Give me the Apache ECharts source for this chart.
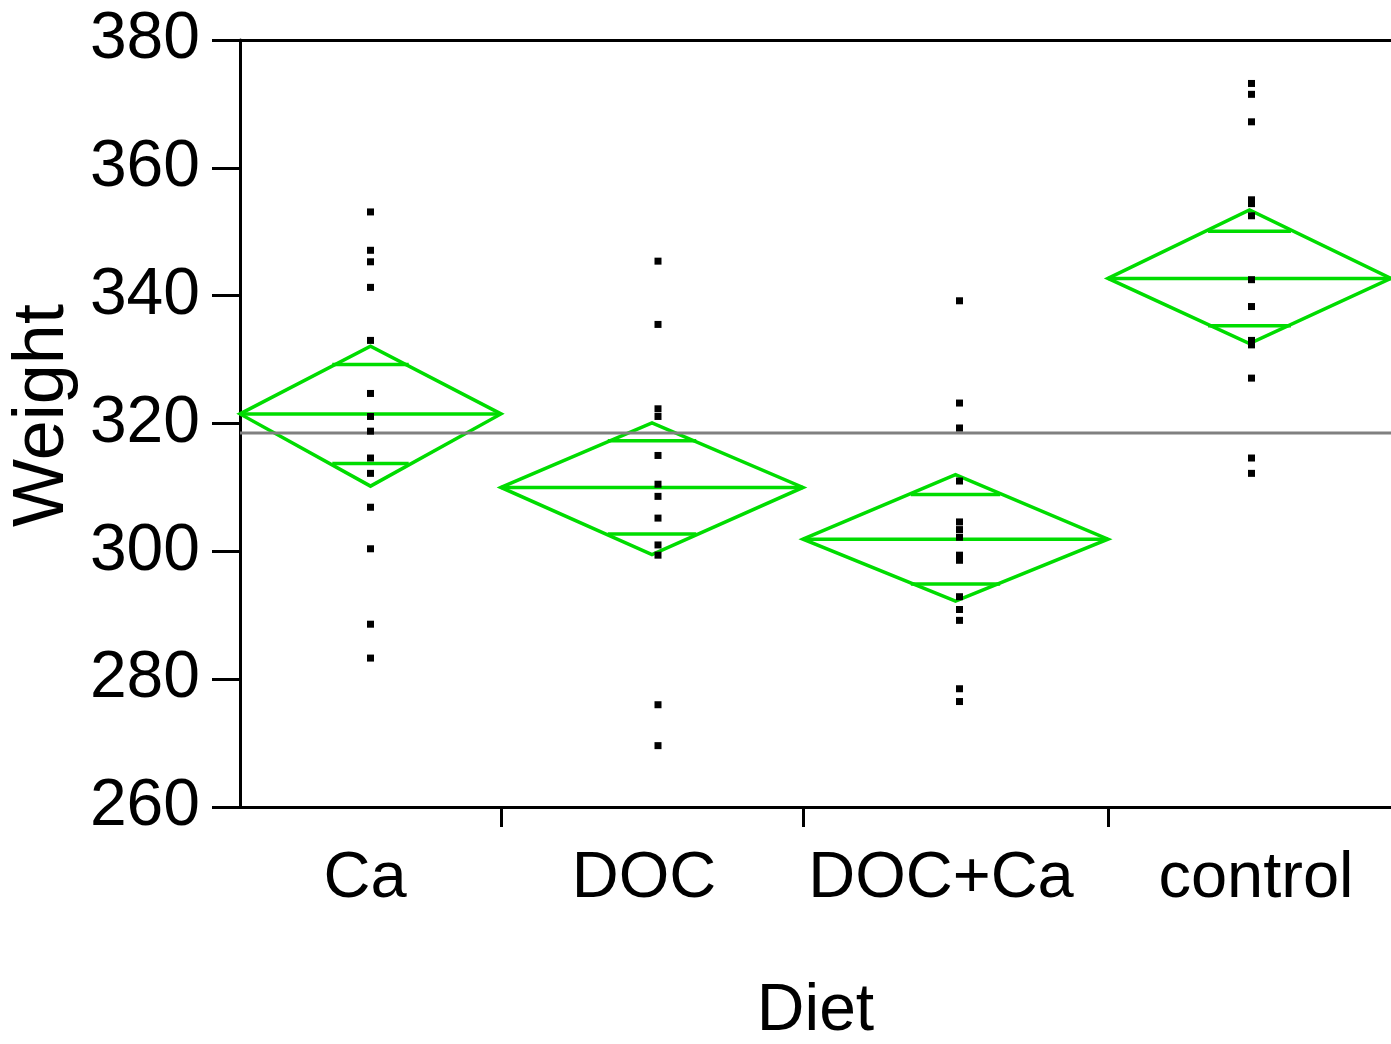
<!DOCTYPE html>
<html>
<head>
<meta charset="utf-8">
<title>Weight by Diet</title>
<script src="https://cdn.jsdelivr.net/npm/echarts@6/dist/echarts.min.js"></script>
<style>
  html, body { margin: 0; padding: 0; background: #ffffff; }
  #chart { width: 1391px; height: 1044px; }
</style>
</head>
<body>
<div id="chart"></div>
<script>
// Diet groups and individual weights
const categories = ['Ca', 'DOC', 'DOC+Ca', 'control'];

const weightCa = [353.1, 347.1, 345.3, 341.3, 333.0, 324.7, 321.1, 318.8, 314.6, 312.2, 306.9, 300.4, 288.6, 283.3];
const weightDOC = [345.4, 335.5, 322.3, 321.1, 315.0, 310.5, 308.6, 305.2, 301.0, 299.4, 276.0, 269.6];
const weightDOCCa = [339.2, 323.2, 319.3, 311.0, 304.6, 303.4, 302.2, 299.4, 298.6, 292.9, 290.9, 289.2, 278.5, 276.5];
const weightControl = [373.2, 371.5, 367.2, 355.0, 354.4, 352.5, 342.5, 338.3, 333.0, 332.3, 327.1, 314.6, 312.2];

// Group means with 95% confidence limits (means diamonds)
const groupMean = [321.5, 310.0, 301.9, 342.7];
const ciLower = [310.2, 299.5, 292.2, 332.5];
const ciUpper = [332.1, 320.1, 312.0, 353.4];
const grandMean = 318.5;

// Y axis ticks
const yTicks = [260, 280, 300, 320, 340, 360, 380];

// ---- layout ----
// Horizontal extent of each group cell along the x scale (group widths reflect group size)
const cellEdges = [0, 261, 563, 868, 1151];
const labelAt = [125, 404, 701, 1016];
const dotShift = [0, 6, 4, 2];
const GREEN = '#00dc00';
const FONT = '"Liberation Sans", Arial, sans-serif';

const groups = [weightCa, weightDOC, weightDOCCa, weightControl];
const cellCenter = categories.map((_, i) => (cellEdges[i] + cellEdges[i + 1]) / 2);

const dotData = [];
groups.forEach((vals, i) => vals.forEach(v => dotData.push([cellCenter[i] + dotShift[i], v])));

const diamondData = categories.map((_, i) => [cellCenter[i], groupMean[i], ciLower[i], ciUpper[i], i]);

function renderDiamond(params, api) {
  const g = api.value(4);
  const mean = api.value(1), lo = api.value(2), hi = api.value(3);
  const x0 = cellEdges[g], x1 = cellEdges[g + 1], xc = (x0 + x1) / 2;
  const pL = api.coord([x0, mean]);
  const pR = api.coord([x1, mean]);
  const pT = api.coord([xc, hi]);
  const pB = api.coord([xc, lo]);
  const half = (hi - lo) / 2;
  const d = half / Math.SQRT2;
  const hw = (x1 - x0) / 2 * (1 - d / half);
  const upA = api.coord([xc - hw, mean + d]), upB = api.coord([xc + hw, mean + d]);
  const dnA = api.coord([xc - hw, mean - d]), dnB = api.coord([xc + hw, mean - d]);
  const st = { stroke: GREEN, lineWidth: 3.5, fill: null };
  return {
    type: 'group',
    children: [
      { type: 'polygon', shape: { points: [pL, pT, pR, pB] }, style: st },
      { type: 'line', shape: { x1: pL[0], y1: pL[1], x2: pR[0], y2: pR[1] }, style: st },
      { type: 'line', shape: { x1: upA[0], y1: upA[1], x2: upB[0], y2: upB[1] }, style: st },
      { type: 'line', shape: { x1: dnA[0], y1: dnA[1], x2: dnB[0], y2: dnB[1] }, style: st }
    ]
  };
}

const chart = echarts.init(document.getElementById('chart'), null, { renderer: 'canvas' });

chart.setOption({
  animation: false,
  backgroundColor: '#ffffff',
  grid: { left: 240, top: 40, width: 1151, bottom: 237, containLabel: false, outerBoundsMode: 'none' },
  xAxis: [
    {
      type: 'value',
      position: 'bottom',
      min: cellEdges[0],
      max: cellEdges[cellEdges.length - 1],
      name: 'Diet',
      nameLocation: 'middle',
      nameGap: 172,
      nameTextStyle: { fontFamily: FONT, fontSize: 66, color: '#000' },
      axisLine: { show: true, onZero: false, lineStyle: { color: '#000', width: 3 } },
      axisTick: {
        show: true, inside: false, length: 20,
        customValues: cellEdges.slice(1, -1),
        lineStyle: { color: '#000', width: 3 }
      },
      axisLabel: {
        show: true,
        customValues: labelAt,
        margin: 40,
        fontFamily: FONT, fontSize: 65, color: '#000',
        formatter: v => {
          const k = labelAt.findIndex(p => Math.abs(p - v) < 0.5);
          return k >= 0 ? categories[k] : '';
        }
      },
      splitLine: { show: false }
    },
    {
      type: 'value',
      position: 'top',
      min: cellEdges[0],
      max: cellEdges[cellEdges.length - 1],
      axisLine: { show: true, onZero: false, lineStyle: { color: '#000', width: 3 } },
      axisTick: { show: false },
      axisLabel: { show: false },
      splitLine: { show: false }
    }
  ],
  yAxis: {
    type: 'value',
    min: yTicks[0],
    max: yTicks[yTicks.length - 1],
    interval: yTicks[1] - yTicks[0],
    name: 'Weight',
    nameLocation: 'middle',
    nameRotate: 90,
    nameGap: 158,
    nameTextStyle: { fontFamily: FONT, fontSize: 72, color: '#000', padding: [0, 0, 0, 16] },
    axisLine: { show: true, lineStyle: { color: '#000', width: 3 } },
    axisTick: { show: true, inside: false, length: 28, lineStyle: { color: '#000', width: 3 } },
    axisLabel: { margin: 40, fontFamily: FONT, fontSize: 66, color: '#000' },
    splitLine: { show: false }
  },
  series: [
    {
      type: 'custom',
      name: 'means diamonds',
      renderItem: renderDiamond,
      data: diamondData,
      encode: { x: 0, y: 1 },
      clip: false,
      z: 2,
      silent: true
    },
    {
      type: 'line',
      name: 'grand mean',
      data: [[cellEdges[0], grandMean], [cellEdges[cellEdges.length - 1], grandMean]],
      showSymbol: false,
      symbol: 'none',
      lineStyle: { color: '#808080', width: 3 },
      z: 3,
      silent: true
    },
    {
      type: 'scatter',
      name: 'Weight',
      data: dotData,
      symbol: 'rect',
      symbolSize: [7, 7],
      itemStyle: { color: '#000', opacity: 1 },
      z: 4,
      silent: true
    }
  ]
});
</script>
</body>
</html>
